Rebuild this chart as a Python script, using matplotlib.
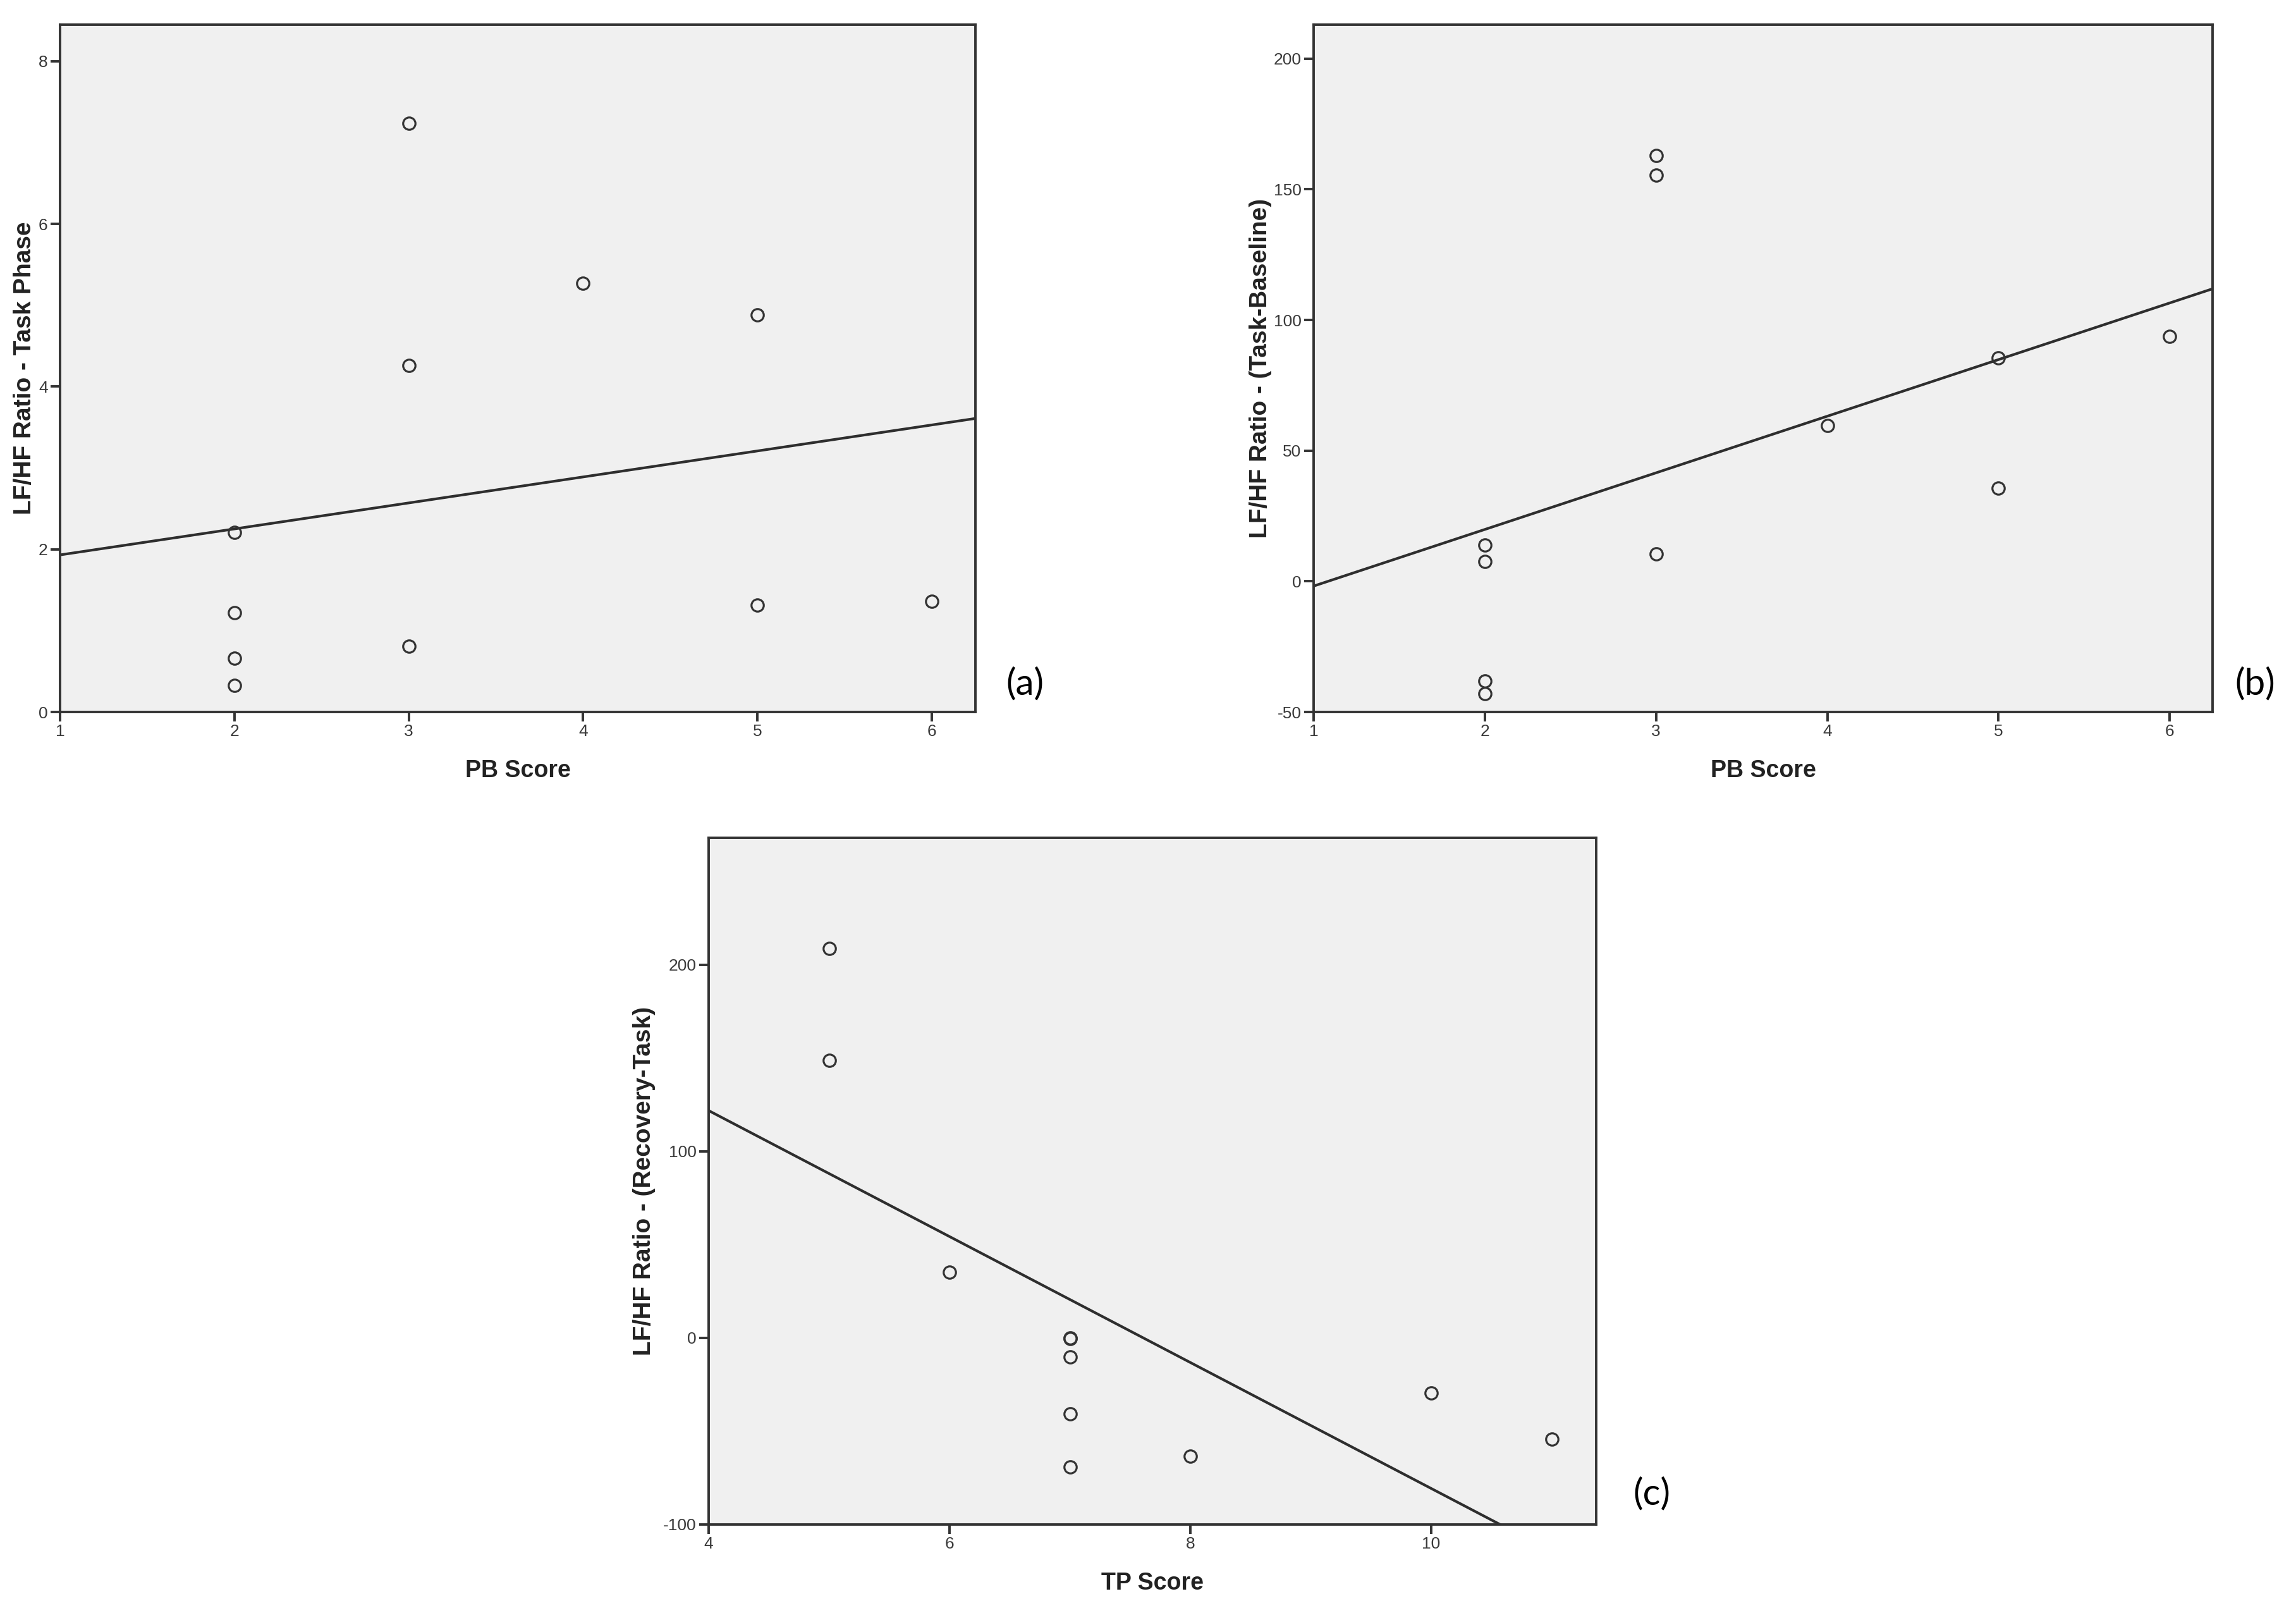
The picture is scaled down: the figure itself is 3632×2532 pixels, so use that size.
import numpy as np
import matplotlib
matplotlib.use("Agg")
import matplotlib.pyplot as plt

# ---------------- data ----------------
pb_score = [2, 2, 2, 2, 3, 3, 3, 4, 5, 5, 6]
lfhf_task = [2.21, 1.22, 0.66, 0.33, 7.24, 4.26, 0.81, 5.27, 4.88, 1.31, 1.36]
lfhf_task_base = [13.8, 7.7, -38.1, -43.1, 162.8, 155.3, 10.5, 59.5, 85.6, 35.6, 93.7]

tp_score = [5, 5, 6, 7, 7, 7, 7, 7, 8, 10, 11]
lfhf_rec_task = [208.7, 148.8, 35.2, 0.0, -0.5, -10.3, -40.6, -69.1, -63.4, -29.6, -54.3]

a_yticks = [0, 2, 4, 6, 8]
b_yticks = [-50, 0, 50, 100, 150, 200]
c_yticks = [-100, 0, 100, 200]
ab_xticks = [1, 2, 3, 4, 5, 6]
c_xticks = [4, 6, 8, 10]

W, H = 3632, 2532
fig = plt.figure(figsize=(W / 100, H / 100), dpi=100)
fig.patch.set_facecolor("white")

SANS = ["Liberation Sans", "DejaVu Sans"]
EDGE = "#333333"


def panel(rect, x, y, xlim, ylim, xticks, yticks, xlabel, ylabel, ylab_x, xlab_y):
    ax = fig.add_axes(rect)
    ax.set_facecolor("#f0f0f0")
    ax.set_xlim(*xlim)
    ax.set_ylim(*ylim)
    for s in ax.spines.values():
        s.set_color(EDGE)
        s.set_linewidth(2.8)
    ax.set_xticks(xticks)
    ax.set_yticks(yticks)
    ax.set_xticklabels([str(t) for t in xticks], fontfamily=SANS, fontsize=19, color="#3a3a3a")
    ax.set_yticklabels([str(t) for t in yticks], fontfamily=SANS, fontsize=19, color="#3a3a3a")
    ax.tick_params(direction="out", length=11, width=2.8, color=EDGE, pad=3,
                   top=False, right=False)
    # fit line (least squares from the points)
    k, b0 = np.polyfit(x, y, 1)
    xs = np.array(xlim)
    ax.plot(xs, k * xs + b0, color="#2e2e2e", lw=3.0, zorder=2, clip_on=True)
    ax.plot(x, y, linestyle="none", marker="o", markersize=14, markerfacecolor="none",
            markeredgecolor="#333333", markeredgewidth=2.3, zorder=3, clip_on=False)
    ax.set_xlabel(xlabel, fontfamily=SANS, fontweight="bold", fontsize=27, color="#222222")
    ax.set_ylabel(ylabel, fontfamily=SANS, fontweight="bold", fontsize=28, color="#222222")
    ax.xaxis.label.set_va("center")
    ax.yaxis.label.set_va("center")
    ax.xaxis.set_label_coords(0.5, xlab_y)
    ax.yaxis.set_label_coords(ylab_x, 0.5)
    return ax


axa = panel([95 / W, 1 - 1126 / H, 1448 / W, 1087 / H], pb_score, lfhf_task,
            (1, 6.25), (0, 8.45), ab_xticks, a_yticks, "PB Score", "LF/HF Ratio - Task Phase",
            (39 - 95) / 1448, (1126 - 1219) / 1087)
axb = panel([2078 / W, 1 - 1126 / H, 1422 / W, 1087 / H], pb_score, lfhf_task_base,
            (1, 6.25), (-50, 213), ab_xticks, b_yticks, "PB Score", "LF/HF Ratio - (Task-Baseline)",
            (1994 - 2078) / 1422, (1126 - 1219) / 1087)
axc = panel([1121 / W, 1 - 2411 / H, 1404 / W, 1086 / H], tp_score, lfhf_rec_task,
            (4, 11.37), (-100, 268), c_xticks, c_yticks, "TP Score", "LF/HF Ratio - (Recovery-Task)",
            (1019 - 1121) / 1404, (2411 - 2504) / 1086)

LBL = ["Lato", "DejaVu Sans"]
fig.text(1621 / W, 1 - 1082 / H, "(a)", fontfamily=LBL, fontsize=42, ha="center", va="center")
fig.text(3567 / W, 1 - 1082 / H, "(b)", fontfamily=LBL, fontsize=42, ha="center", va="center")
fig.text(2613 / W, 1 - 2363 / H, "(c)", fontfamily=LBL, fontsize=42, ha="center", va="center")

fig.savefig("out.png", dpi=100, facecolor="white")
